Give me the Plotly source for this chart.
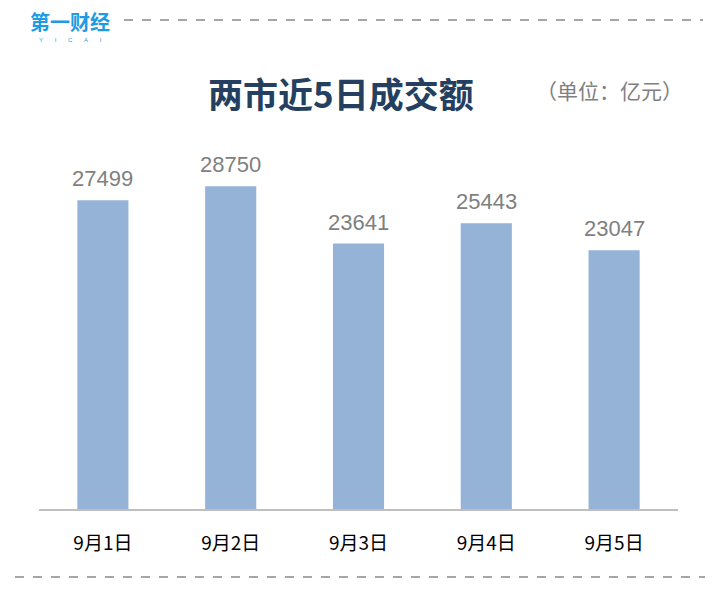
import plotly.graph_objects as go

categories = ["9月1日", "9月2日", "9月3日", "9月4日", "9月5日"]
values = [27499, 28750, 23641, 25443, 23047]
title_text = "两市近5日成交额"
unit_text = "（单位：亿元）"

W, H = 722, 595
OFF = 8  # page body margin
def px(x): return (x - OFF) / W
def py(y): return 1 - (y - OFF) / H

fig = go.Figure()
fig.add_trace(go.Bar(
    x=categories, y=values,
    marker=dict(color="#95b3d7", line=dict(width=0)),
    width=0.4,
))

for c, v in zip(categories, values):
    fig.add_annotation(x=c, y=v, xref="x", yref="y", text=str(v),
                       showarrow=False, yanchor="bottom", yshift=7,
                       font=dict(family="Liberation Sans, Arial", size=22, color="#7f7f7f"))

fig.add_annotation(x=px(341), y=py(93), xref="paper", yref="paper",
                   text="<b>" + title_text + "</b>", showarrow=False,
                   xanchor="center", yanchor="middle",
                   font=dict(family="Noto Sans CJK SC", size=35, color="#243f60"))
fig.add_annotation(x=px(609), y=py(90), xref="paper", yref="paper",
                   text=unit_text, showarrow=False,
                   xanchor="center", yanchor="middle",
                   font=dict(family="Noto Sans CJK SC", size=21, color="#808080"))

# logo
fig.add_annotation(x=px(70), y=py(21), xref="paper", yref="paper",
                   text="<b>第一财经</b>", showarrow=False,
                   xanchor="center", yanchor="middle", borderpad=0,
                   font=dict(family="Noto Sans CJK SC", size=20, color="#1e9be2"))
fig.add_annotation(x=px(70), y=py(40), xref="paper", yref="paper",
                   text="Y&nbsp;&nbsp;&nbsp;&nbsp;&nbsp;&nbsp;&nbsp;I&nbsp;&nbsp;&nbsp;&nbsp;&nbsp;&nbsp;&nbsp;C&nbsp;&nbsp;&nbsp;&nbsp;&nbsp;&nbsp;&nbsp;A&nbsp;&nbsp;&nbsp;&nbsp;&nbsp;&nbsp;&nbsp;I",
                   showarrow=False, xanchor="center", yanchor="middle", borderpad=0,
                   font=dict(family="Liberation Sans", size=6, color="#1e9be2"))

fig.add_shape(type="line", xref="paper", yref="paper",
              x0=px(124), x1=px(703), y0=py(20), y1=py(20),
              line=dict(color="#a6a6a6", width=2, dash="dash"))
fig.add_shape(type="line", xref="paper", yref="paper",
              x0=px(15), x1=px(705), y0=py(577), y1=py(577),
              line=dict(color="#a6a6a6", width=2, dash="dash"))

fig.update_layout(
    width=W, height=H,
    margin=dict(l=0, r=0, t=0, b=0),
    paper_bgcolor="white", plot_bgcolor="white",
    showlegend=False,
    xaxis=dict(domain=[px(39), px(678)], showline=True, linecolor="#bfbfbf", linewidth=2,
               ticks="", ticklabelstandoff=16,
               tickfont=dict(family="Noto Sans CJK SC", size=19, color="#000000")),
    yaxis=dict(domain=[py(509), py(116)], range=[0, 35000], visible=False,
               showgrid=False, zeroline=False),
)

fig.write_html("out.html")
